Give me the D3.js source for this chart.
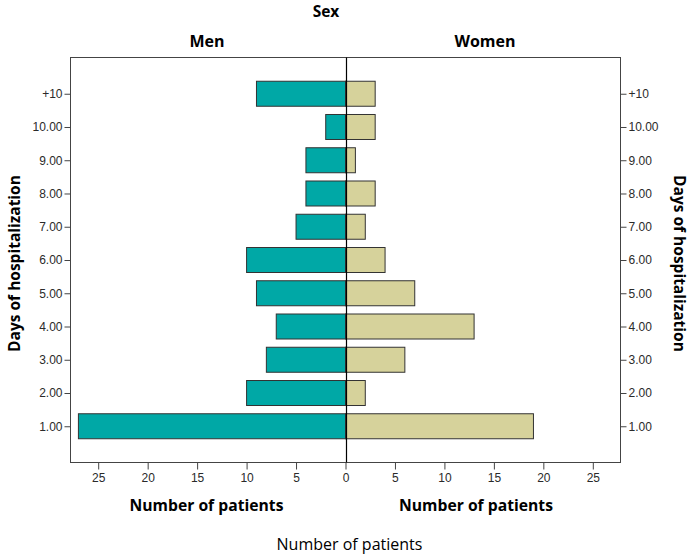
<!DOCTYPE html>
<html><head><meta charset="utf-8">
<script src="https://cdnjs.cloudflare.com/ajax/libs/d3/7.8.5/d3.min.js"></script>
<style>body{margin:0;background:#fff;} svg{display:block;}</style>
</head><body>
<svg id="c" width="692" height="556"></svg>
<script>
const categories = ["+10","10.00","9.00","8.00","7.00","6.00","5.00","4.00","3.00","2.00","1.00"];
const menValues   = [9, 2, 4, 4, 5, 10, 9, 7, 8, 10, 27];
const womenValues = [3, 3, 1, 3, 2, 4, 7, 13, 6, 2, 19];
const xTicks = [-25,-20,-15,-10,-5,0,5,10,15,20,25];

const svg = d3.select("#c");
const L = 70.5, R = 620.5, T = 57.5, B = 462.5;
const x = d3.scaleLinear().domain([-27.8, 27.8]).range([L, R]);
const y = d3.scalePoint().domain(categories).range([T, B]).padding(1.09);
const bh = 25;
const tickFont = "'Liberation Sans', Arial, sans-serif";
const titleFont = "'Open Sans', 'Noto Sans', sans-serif";

// frame
svg.append("rect").attr("x", L).attr("y", T).attr("width", R - L).attr("height", B - T)
  .attr("fill", "none").attr("stroke", "#444").attr("stroke-width", 1);

// bars
svg.selectAll("rect.men").data(categories).join("rect").attr("class","men")
  .attr("x", (d,i) => x(-menValues[i])).attr("y", d => y(d) - bh/2)
  .attr("width", (d,i) => x(0) - x(-menValues[i])).attr("height", bh)
  .attr("fill", "#00a8a6").attr("stroke", "#333").attr("stroke-width", 1);
svg.selectAll("rect.women").data(categories).join("rect").attr("class","women")
  .attr("x", x(0)).attr("y", d => y(d) - bh/2)
  .attr("width", (d,i) => x(womenValues[i]) - x(0)).attr("height", bh)
  .attr("fill", "#d6d29b").attr("stroke", "#333").attr("stroke-width", 1);

// zero line
svg.append("line").attr("x1", Math.round(x(0))+0.5).attr("x2", Math.round(x(0))+0.5)
  .attr("y1", T).attr("y2", B).attr("stroke", "#000").attr("stroke-width", 1.2);

// x axis
const xa = svg.append("g").attr("transform", `translate(0,${B})`)
  .call(d3.axisBottom(x).tickValues(xTicks).tickFormat(d => Math.abs(d)).tickSize(7).tickPadding(4));
xa.select(".domain").remove();
xa.selectAll("line").attr("stroke", "#444");
xa.selectAll("text").attr("font-family", tickFont).attr("font-size", 12).attr("fill", "#2a2a2a");

// left y axis
const yl = svg.append("g").attr("transform", `translate(${L},0)`)
  .call(d3.axisLeft(y).tickSize(6).tickPadding(2));
yl.select(".domain").remove();
yl.selectAll("line").attr("stroke", "#444");
yl.selectAll("text").attr("font-family", tickFont).attr("font-size", 12).attr("fill", "#2a2a2a");

// right y axis
const yr = svg.append("g").attr("transform", `translate(${R},0)`)
  .call(d3.axisRight(y).tickSize(6).tickPadding(2));
yr.select(".domain").remove();
yr.selectAll("line").attr("stroke", "#444");
yr.selectAll("text").attr("font-family", tickFont).attr("font-size", 12).attr("fill", "#2a2a2a");

// titles
function t(txt, xx, yy, size, weight, rot) {
  const e = svg.append("text").attr("x", xx).attr("y", yy).attr("text-anchor", "middle")
    .attr("font-family", titleFont).attr("font-size", size).attr("font-weight", weight)
    .attr("fill", "#000").text(txt);
  if (rot) e.attr("transform", `rotate(${rot},${xx},${yy})`);
  return e;
}
t("Sex", 326, 17, 15.5, "bold");
t("Men", 207, 47, 16, "bold");
t("Women", 485, 47, 16, "bold");
t("Number of patients", 206.5, 511, 15.7, "bold");
t("Number of patients", 476, 511, 15.7, "bold");
t("Number of patients", 349.5, 550, 16, "normal");
t("Days of hospitalization", 20, 263.5, 15.5, "bold", -90);
t("Days of hospitalization", 674, 263.5, 15.5, "bold", 90);
</script>
</body></html>
